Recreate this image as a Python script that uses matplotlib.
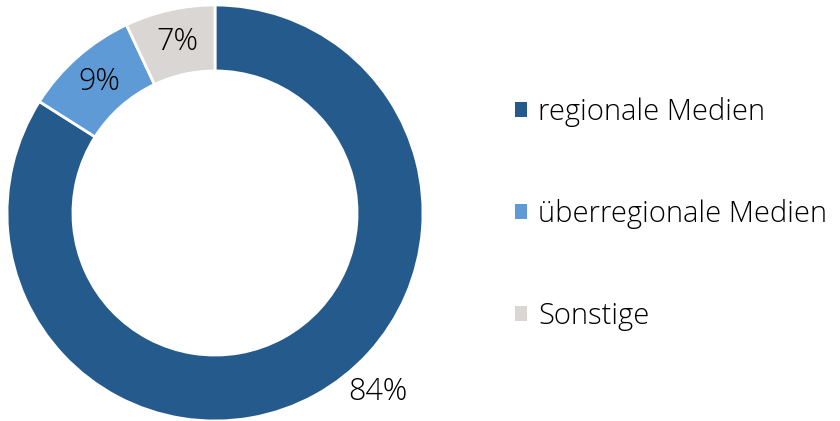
import matplotlib
matplotlib.use("Agg")
import matplotlib.pyplot as plt
from matplotlib.patches import Patch

plt.rcParams['font.family'] = ['Open Sans', 'DejaVu Sans']

# Daten
categories = ['regionale Medien', 'überregionale Medien', 'Sonstige']
values = [84, 9, 7]
colors = ['#245a8c', '#5e9bd6', '#d9d6d3']

fig = plt.figure(figsize=(8.4, 4.21), dpi=100)
ax = fig.add_axes([7 / 840, 0, 416 / 840, 416 / 421])

wedges, texts, autotexts = ax.pie(
    values, colors=colors, startangle=90, counterclock=False,
    radius=1.0, autopct='%d%%', pctdistance=0.84,
    wedgeprops=dict(width=0.317, edgecolor='white', linewidth=2),
    textprops=dict(fontsize=22, color='black', fontweight='light'))

# 84% sitzt außerhalb des Rings
autotexts[0].set_position((0.784, -0.861))

ax.set_xlim(-1, 1)
ax.set_ylim(-1, 1)
ax.set_aspect('equal')
ax.axis('off')

handles = [Patch(facecolor=c, edgecolor='none') for c in colors]
fig.legend(handles, categories, loc='center left',
           bbox_to_anchor=(515 / 840, 1 - 214 / 421),
           frameon=False, labelspacing=2.48,
           prop=dict(size=21, weight='light'),
           handlelength=0.42, handleheight=0.42, handletextpad=0.38,
           borderaxespad=0, borderpad=0)
for t in fig.legends[0].get_texts():
    t.set_color('black')

fig.savefig('out.png', dpi=100)
plt.close(fig)
